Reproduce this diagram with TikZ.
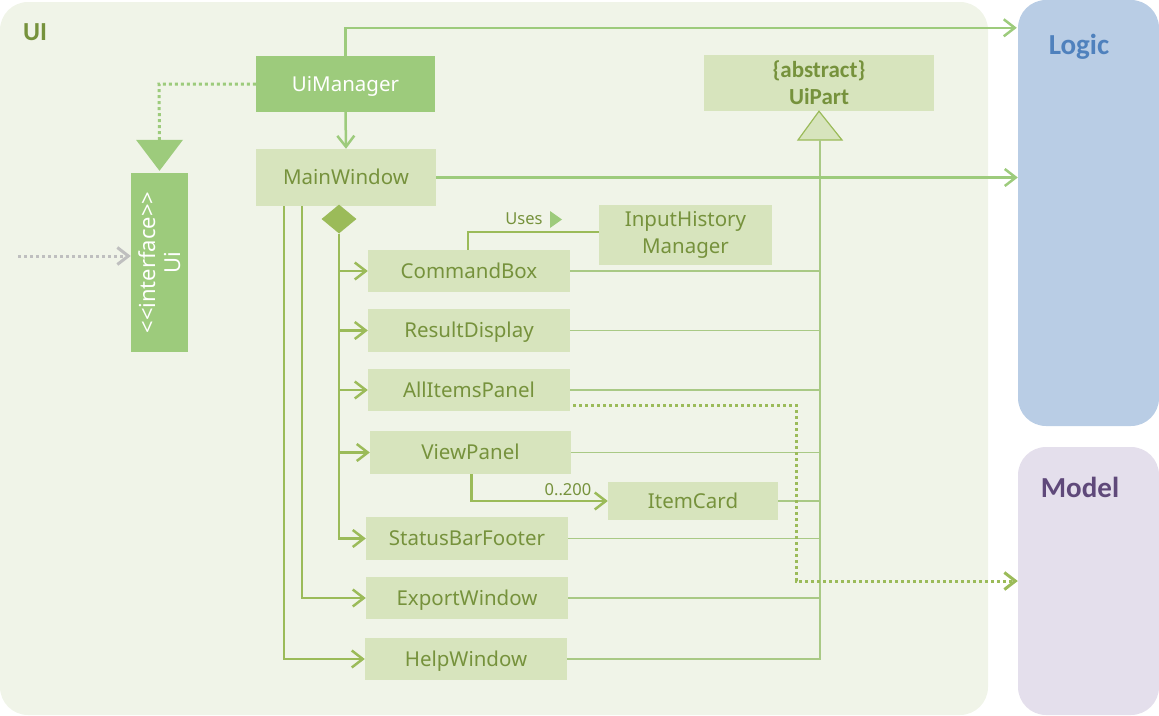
\documentclass[tikz,border=0pt]{standalone}
\usepackage{fontspec}
\setmainfont{Noto Sans}
\newfontfamily\calib{Carlito}
\usetikzlibrary{arrows.meta,shapes.geometric,calc}
\definecolor{uibg}{HTML}{F0F4E8}
\definecolor{boxlight}{HTML}{D7E4BD}
\definecolor{boxmid}{HTML}{9DCB7C}
\definecolor{olive}{HTML}{76923C}
\definecolor{compc}{HTML}{9BBB59}
\definecolor{arrc}{HTML}{9DCB7C}
\definecolor{thinc}{HTML}{A9C985}
\definecolor{logicbg}{HTML}{B9CDE5}
\definecolor{logictx}{HTML}{4F81BD}
\definecolor{modelbg}{HTML}{E4DFEC}
\definecolor{modeltx}{HTML}{5F497A}
\definecolor{greyc}{HTML}{BFBFBF}
\tikzset{
  region/.style={inner sep=0pt, rounded corners=28pt},
  multibox/.style={fill=boxlight, inner sep=0pt, text=olive, align=center,
    font=\fontsize{20.5}{27}\selectfont},
  lbox/.style={multibox, text height=14.6pt, text depth=0pt},
  mbox/.style={fill=boxmid, inner sep=0pt, text=white, align=center,
    font=\fontsize{20.5}{26}\selectfont},
  barb/.style={-{Straight Barb[length=11pt,width=17pt]}},
  comp/.style={draw=compc, line width=2.5pt},
  compa/.style={comp, barb},
  arrl/.style={draw=arrc, line width=2.5pt, barb},
  thinl/.style={draw=thinc, line width=1.3pt},
  dotl/.style={line width=3pt, dash pattern=on 3pt off 3pt},
  title/.style={font=\calib\bfseries\fontsize{29}{32}\selectfont, inner sep=0pt},
  small/.style={font=\fontsize{16.5}{18}\selectfont, text=olive, inner sep=0pt}
}
\begin{document}
\begin{tikzpicture}[x=1pt,y=-1pt]
\useasboundingbox (0,0) rectangle (1159,715);
% regions
\node[region, fill=uibg, minimum width=988pt, minimum height=713pt] (ui) at (494,358.5) {};
\node[region, fill=logicbg, minimum width=141pt, minimum height=426pt] (logic) at (1088.5,213) {};
\node[region, fill=modelbg, minimum width=141pt, minimum height=268pt] (model) at (1088.5,581) {};
\node[title, text=olive, font=\calib\bfseries\fontsize{26}{30}\selectfont] (uilbl) at (35,32) {UI};
\node[title, text=logictx] (logiclbl) at (1079,47) {Logic};
\node[title, text=modeltx] (modellbl) at (1080,487) {Model};

% boxes
\node[mbox, minimum width=179pt, minimum height=56pt, text height=14.6pt, text depth=0pt] (uimgr) at (345.5,84) {UiManager};
\node[mbox, minimum width=179pt, minimum height=57pt, rotate=90, font=\fontsize{22}{25}\selectfont] (uiif) at (159.5,262.5) {<{}<interface>{}>\\Ui};
\node[lbox, minimum width=180pt, minimum height=57pt] (mainw) at (346,177.5) {MainWindow};
\node[multibox, minimum width=230pt, minimum height=56pt, font=\calib\bfseries\fontsize{23}{27}\selectfont] (uipart) at (819,83) {\{abstract\}\\UiPart};
\node[lbox, minimum width=202pt, minimum height=42pt] (cmd) at (469,271) {CommandBox};
\node[lbox, minimum width=202pt, minimum height=43pt] (res) at (469,330.5) {ResultDisplay};
\node[lbox, minimum width=202pt, minimum height=42pt] (all) at (469,390) {AllItemsPanel};
\node[lbox, minimum width=201pt, minimum height=43pt] (view) at (470.5,452.5) {ViewPanel};
\node[lbox, minimum width=202pt, minimum height=43pt] (status) at (467,538.5) {StatusBarFooter};
\node[lbox, minimum width=202pt, minimum height=42pt] (export) at (467,598) {ExportWindow};
\node[lbox, minimum width=202pt, minimum height=42pt] (help) at (466,659) {HelpWindow};
\node[lbox, minimum width=170pt, minimum height=38pt] (itemcard) at (693,501) {ItemCard};
\node[multibox, minimum width=173pt, minimum height=60pt] (ihm) at (685.5,235) {InputHistory\\Manager};

% composition diamond
\node[diamond, fill=compc, inner sep=0pt, minimum width=35pt, minimum height=29pt] (dia) at (339,219) {};

% generalisation triangle
\coordinate (gen) at (820,140);
\draw[draw=compc, fill=boxlight, line width=1.2pt] (uipart.south) -- ($(gen)+(22,0)$) -- ($(gen)+(-22,0)$) -- cycle;

% thin lines to UiPart
\foreach \n in {cmd,res,all,view,status,export,help,itemcard}
  \draw[thinl] (\n.east) -| (gen);

% UiManager connections
\draw[arrl] (uimgr.north) |- ($(logic.north west)+(-1,28)$);
\draw[arrl] (uimgr.south) -- (mainw.north);
\draw[arrl] (mainw.east) -- (mainw.east -| logic.west);
\coordinate (ifbend) at (159,84);
\draw[draw=arrc, dotl] (uimgr.west) -- (ifbend) -- ($(uiif.east)+(0,-33)$);
\fill[arrc] ($(uiif.east)+(0,-2)$) -- ($(uiif.east)+(23.5,-33)$) -- ($(uiif.east)+(-23.5,-33)$) -- cycle;

% external grey dotted
\coordinate (ext) at (18,256);
\draw[draw=greyc, dotl, barb] (ext) -- (ext -| uiif.north);

% composition branches
\foreach \n in {cmd,res,all,view,status}
  \draw[compa] (dia.south) |- (\n.west);
\draw[compa] ([xshift=28pt]mainw.south west) |- (help.west);
\draw[compa] ([xshift=46pt]mainw.south west) |- (export.west);

% Uses
\draw[comp] ([xshift=-1pt]cmd.north) |- (ihm.west |- 0,232);
\node[small] (useslbl) at (524,219) {Uses};
\fill[boxmid] (550,211) -- (562,219.5) -- (550,228) -- cycle;

% ViewPanel -> ItemCard
\draw[compa] ([xshift=1pt]view.south) |- (itemcard.west);
\node[small] (mult) at (568,490) {0..200};

% AllItemsPanel -> Model
\coordinate (astart) at ($(all.south east)+(3,-6)$);
\coordinate (mbend) at (796,581);
\draw[draw=compc, dotl, barb] (astart) -| (mbend) -- (mbend -| model.west);
\end{tikzpicture}
\end{document}
